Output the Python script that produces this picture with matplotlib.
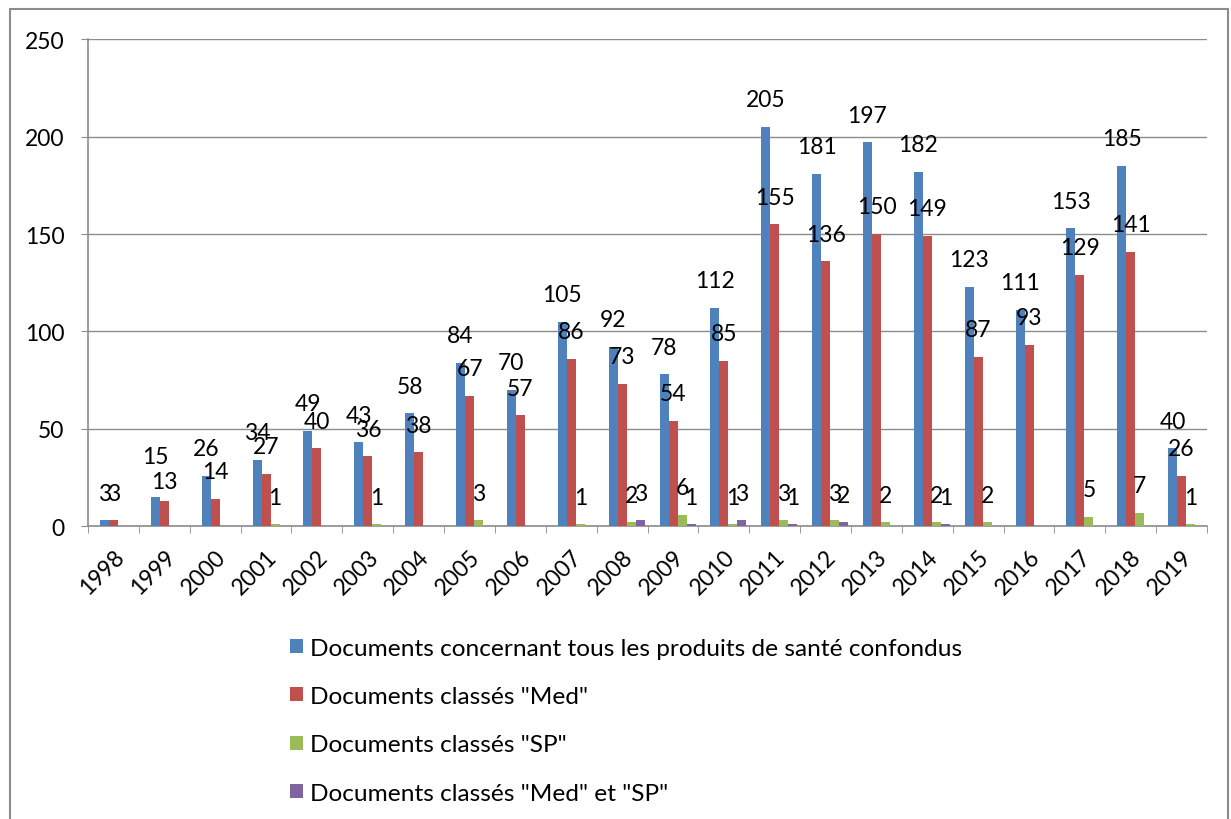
import matplotlib
matplotlib.use("Agg")
import matplotlib.pyplot as plt
import matplotlib.patches as mpatches
import numpy as np

years = [str(y) for y in range(1998, 2020)]
total = [3, 15, 26, 34, 49, 43, 58, 84, 70, 105, 92, 78, 112, 205, 181, 197, 182, 123, 111, 153, 185, 40]
med = [3, 13, 14, 27, 40, 36, 38, 67, 57, 86, 73, 54, 85, 155, 136, 150, 149, 87, 93, 129, 141, 26]
sp = [0, 0, 0, 1, 0, 1, 0, 3, 0, 1, 2, 6, 1, 3, 3, 2, 2, 2, 0, 5, 7, 1]
med_sp = [0, 0, 0, 0, 0, 0, 0, 0, 0, 0, 3, 1, 3, 1, 2, 0, 1, 0, 0, 0, 0, 0]

series = [
    ("Documents concernant tous les produits de santé confondus", total, "#4F81BD"),
    ('Documents classés "Med"', med, "#C0504D"),
    ('Documents classés "SP"', sp, "#9BBB59"),
    ('Documents classés "Med" et "SP"', med_sp, "#8064A2"),
]

# label vertical offsets (points) above bar top; two labels were moved by hand in the original
default_offset = 19.5
offset_override = {(0, "1999"): 29, (1, "1999"): 14}

plt.rcParams['font.family'] = ['Lato', 'DejaVu Sans']
FS = 16.5

fig = plt.figure(figsize=(12.31, 8.20), dpi=100)
ax = fig.add_axes([0.0715, 0.357, 0.909, 0.594])

x = np.arange(len(years))
w = 0.177
handles = []
for i, (name, vals, col) in enumerate(series):
    pos = x + (i - 1.5) * w + 0.09
    bars = ax.bar(pos, vals, width=w, color=col, zorder=3, label=name)
    handles.append(bars)
    for px, v, yr in zip(pos, vals, years):
        if v > 0:
            off = offset_override.get((i, yr), default_offset)
            ax.annotate(str(v), (px, v), xytext=(0, off), textcoords="offset points",
                        ha="center", va="center", fontsize=FS, color="black", zorder=4)

ax.set_xlim(-0.5, len(years) - 0.5)
ax.set_ylim(0, 250)
ax.set_yticks(range(0, 251, 50))
ax.yaxis.grid(True, color="#8c8c8c", linewidth=1, zorder=0)
ax.tick_params(axis="y", labelsize=FS, length=5, color="#8c8c8c", pad=12)
ax.set_xticks(x)
ax.set_xticklabels(years, rotation=45, ha="right", rotation_mode="anchor", fontsize=FS)
ax.tick_params(axis="x", which="major", length=0, pad=14)
ax.set_xticks(np.arange(-0.5, len(years), 1), minor=True)
ax.tick_params(axis="x", which="minor", length=5, color="#8c8c8c")
for s in ["top", "right"]:
    ax.spines[s].set_visible(False)
for s in ["left", "bottom"]:
    ax.spines[s].set_color("#8c8c8c")
    ax.spines[s].set_linewidth(1.2)

leg = fig.legend(handles=handles, loc="upper left", bbox_to_anchor=(0.228, 0.233),
                 frameon=False, fontsize=17.6, handlelength=0.5, handleheight=0.5,
                 handletextpad=0.3, labelspacing=1.12, borderaxespad=0)

border = mpatches.Rectangle((10 / 1231, -0.1), 1218 / 1231, 1.1 - 10 / 820,
                            transform=fig.transFigure, fill=False,
                            edgecolor="#8c8c8c", linewidth=1.5, clip_on=False)
fig.patches.append(border)

fig.savefig("out.png", dpi=100)
